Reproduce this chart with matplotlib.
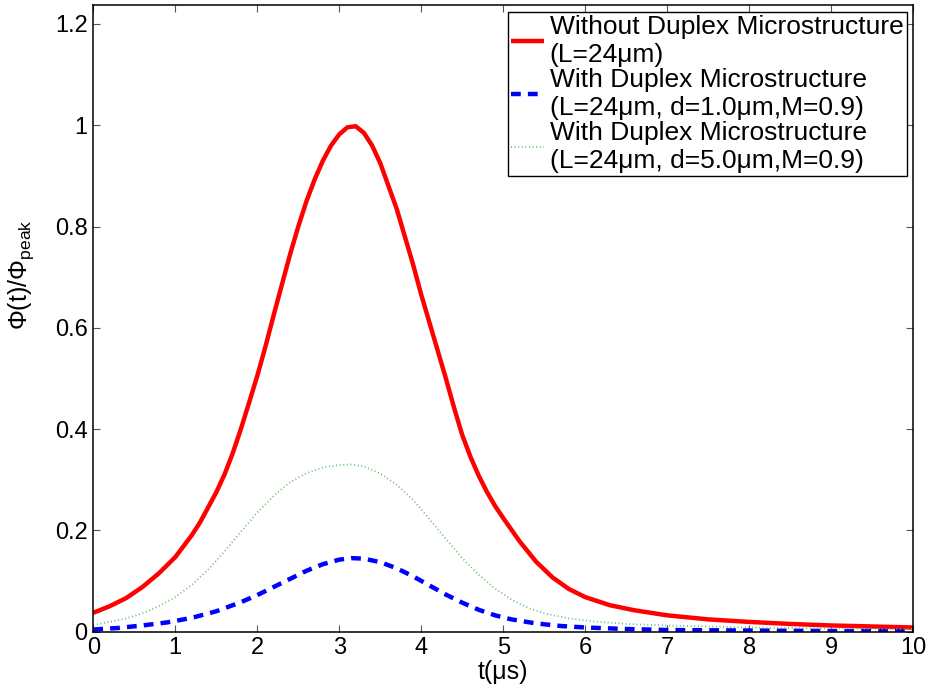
import matplotlib
matplotlib.use("Agg")
import matplotlib.pyplot as plt
from matplotlib import font_manager

# --- Data ---
t_red = [0.0, 0.2, 0.4, 0.6, 0.8, 1.0, 1.2, 1.3, 1.4, 1.5, 1.6, 1.7, 1.8,
         1.9, 2.0, 2.1, 2.2, 2.3, 2.4, 2.5, 2.6, 2.7, 2.8, 2.9, 3.0, 3.1,
         3.2, 3.3, 3.4, 3.5, 3.6, 3.7, 3.8, 3.9, 4.0, 4.1, 4.2, 4.3, 4.4,
         4.5, 4.6, 4.7, 4.8, 4.9, 5.0, 5.2, 5.4, 5.6, 5.8, 6.0, 6.3, 6.6,
         7.0, 7.5, 8.0, 8.5, 9.0, 9.5, 10.0]
phi_red = [0.037, 0.050, 0.066, 0.088, 0.115, 0.147, 0.19, 0.215, 0.245,
           0.275, 0.31, 0.352, 0.40, 0.452, 0.505, 0.563, 0.625, 0.685,
           0.745, 0.80, 0.85, 0.893, 0.93, 0.96, 0.982, 0.996, 0.998, 0.985,
           0.96, 0.925, 0.88, 0.835, 0.78, 0.725, 0.665, 0.61, 0.555, 0.50,
           0.442, 0.388, 0.345, 0.308, 0.276, 0.248, 0.224, 0.178, 0.138,
           0.107, 0.084, 0.068, 0.052, 0.042, 0.032, 0.024, 0.019, 0.015,
           0.012, 0.010, 0.008]

t_blue = [0.0, 0.3, 0.6, 0.9, 1.2, 1.5, 1.8, 2.0, 2.2, 2.4, 2.6, 2.8, 3.0,
          3.15, 3.3, 3.5, 3.7, 3.9, 4.1, 4.3, 4.5, 4.7, 4.9, 5.1, 5.4, 5.7,
          6.0, 6.5, 7.0, 8.0, 9.0, 10.0]
phi_blue = [0.004, 0.007, 0.012, 0.018, 0.027, 0.040, 0.058, 0.072, 0.088,
            0.104, 0.12, 0.133, 0.142, 0.145, 0.144, 0.137, 0.125, 0.109,
            0.091, 0.073, 0.057, 0.043, 0.032, 0.024, 0.016, 0.011, 0.008,
            0.005, 0.003, 0.002, 0.001, 0.001]

t_green = [0.0, 0.2, 0.4, 0.6, 0.8, 1.0, 1.2, 1.4, 1.6, 1.8, 2.0, 2.2, 2.4,
           2.6, 2.8, 3.0, 3.15, 3.3, 3.5, 3.7, 3.9, 4.1, 4.3, 4.5, 4.7, 4.9,
           5.1, 5.3, 5.5, 5.8, 6.1, 6.5, 7.0, 8.0, 9.0, 10.0]
phi_green = [0.013, 0.019, 0.026, 0.036, 0.05, 0.068, 0.092, 0.122, 0.158,
             0.197, 0.235, 0.268, 0.295, 0.313, 0.324, 0.329, 0.33, 0.326,
             0.312, 0.29, 0.26, 0.222, 0.183, 0.145, 0.112, 0.085, 0.063,
             0.047, 0.036, 0.026, 0.020, 0.015, 0.012, 0.008, 0.006, 0.005]

labels = [
    "Without Duplex Microstructure\n(L=24\u03bcm)",
    "With Duplex Microstructure\n(L=24\u03bcm, d=1.0\u03bcm,M=0.9)",
    "With Duplex Microstructure\n(L=24\u03bcm, d=5.0\u03bcm,M=0.9)",
]
xticks = list(range(0, 11))
yticks = [0, 0.2, 0.4, 0.6, 0.8, 1, 1.2]
yticklabels = ["0", "0.2", "0.4", "0.6", "0.8", "1", "1.2"]

# --- Fonts ---
names = {f.name for f in font_manager.fontManager.ttflist}
base = "Liberation Sans" if "Liberation Sans" in names else "DejaVu Sans"
plt.rcParams["font.family"] = [base, "DejaVu Sans"]
plt.rcParams["mathtext.fontset"] = "custom"
plt.rcParams["mathtext.rm"] = base
plt.rcParams["mathtext.it"] = base

# --- Plot ---
fig = plt.figure(figsize=(9.3, 6.94), dpi=100)
ax = fig.add_axes([0.1003, 0.09, 0.8817, 0.9028])

ax.plot(t_red, phi_red, color="#ff0000", lw=3.2, solid_capstyle="butt",
        solid_joinstyle="round", label=labels[0])
ax.plot(t_blue, phi_blue, color="#0000ff", lw=3.2, dashes=(2.2, 1.6),
        dash_capstyle="butt", label=labels[1])
ax.plot(t_green, phi_green, color="#5cb85c", lw=1.3, dashes=(0.5, 1.5),
        dash_capstyle="butt", label=labels[2])

ax.set_xlim(0, 10)
ax.set_ylim(0, 1.2375)
ax.set_xticks(xticks)
ax.set_yticks(yticks)
ax.set_yticklabels(yticklabels)

for lab in ax.get_xticklabels():
    lab.set_fontsize(17)
for lab in ax.get_yticklabels():
    lab.set_fontsize(17)

ax.tick_params(direction="in", length=5, width=0.8, color="#555555",
               top=True, right=True, pad=4)
for s in ax.spines.values():
    s.set_linewidth(1.1)

ax.set_xlabel("t(\u03bcs)", fontsize=18, labelpad=1)
ax.set_ylabel(r"$\Phi$(t)/$\Phi_{\rm peak}$", fontsize=18)
ax.yaxis.set_label_coords(-0.07, 0.57)

leg = ax.legend(loc="upper right", fontsize=19, handlelength=1.25,
                handletextpad=0.2, labelspacing=0.05, borderpad=0.12,
                borderaxespad=0.25, fancybox=False, framealpha=1)
leg.get_frame().set_edgecolor("black")
leg.get_frame().set_linewidth(1.0)

fig.savefig("out.png", dpi=100)
